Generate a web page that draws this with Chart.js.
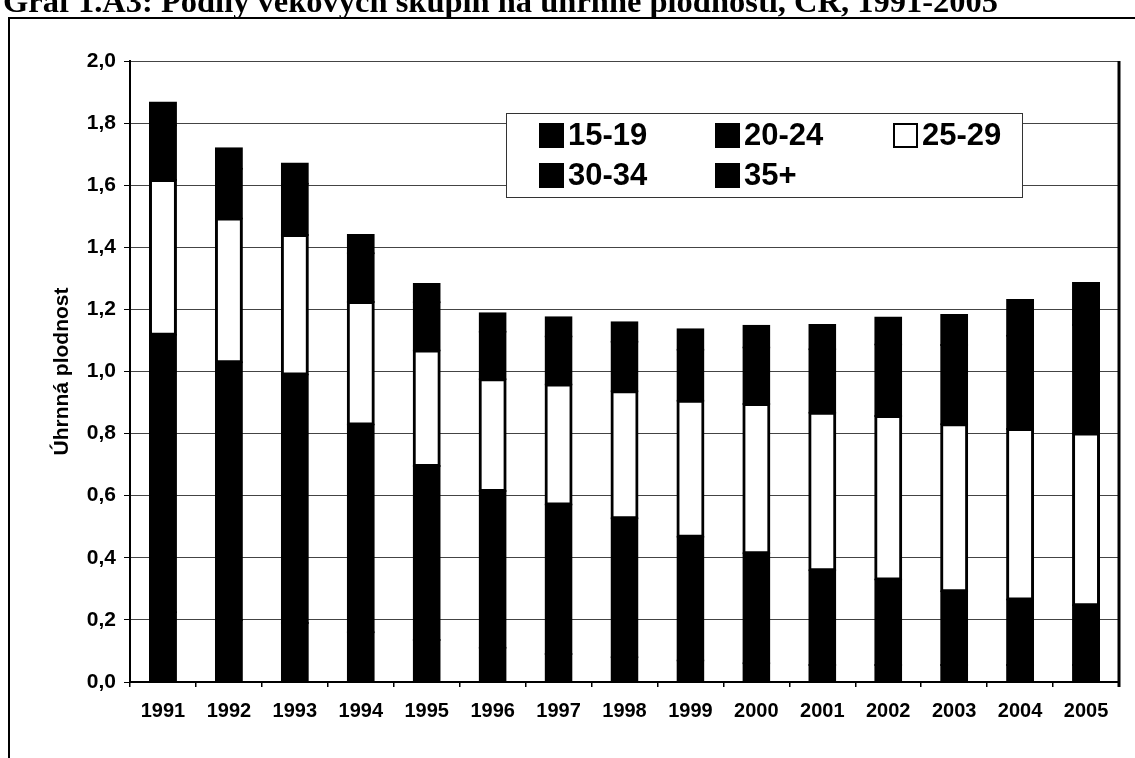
<!DOCTYPE html>
<html lang="cs">
<head>
<meta charset="utf-8">
<title>Graf 1.A3: Podíly věkových skupin na úhrnné plodnosti, ČR, 1991-2005</title>
<script src="https://cdn.jsdelivr.net/npm/chart.js@4/dist/chart.umd.min.js"></script>
<style>
  html, body { margin: 0; padding: 0; background: #fff; }
  canvas { display: block; }
</style>
</head>
<body>
<canvas id="chart" width="1135" height="758"></canvas>
<script>
// Roky a příspěvky věkových skupin k úhrnné plodnosti
const years = ['1991', '1992', '1993', '1994', '1995', '1996', '1997', '1998',
               '1999', '2000', '2001', '2002', '2003', '2004', '2005'];
const age15_19 = [0.225, 0.200, 0.190, 0.160, 0.135, 0.110, 0.090, 0.080, 0.069, 0.060, 0.055, 0.055, 0.055, 0.055, 0.055];
const age20_24 = [0.893, 0.830, 0.800, 0.669, 0.561, 0.505, 0.482, 0.447, 0.399, 0.355, 0.305, 0.275, 0.237, 0.211, 0.192];
const age25_29 = [0.499, 0.463, 0.450, 0.395, 0.372, 0.360, 0.386, 0.409, 0.438, 0.480, 0.507, 0.527, 0.538, 0.549, 0.553];
const age30_34 = [0.175, 0.160, 0.165, 0.157, 0.155, 0.153, 0.155, 0.160, 0.164, 0.182, 0.205, 0.230, 0.255, 0.300, 0.350];
const age35plus = [0.074, 0.066, 0.065, 0.059, 0.059, 0.060, 0.062, 0.063, 0.066, 0.070, 0.078, 0.087, 0.097, 0.115, 0.135];

const seriesLabels = ['15-19', '20-24', '25-29', '30-34', '35+'];
const seriesColors = ['#000000', '#000000', '#ffffff', '#000000', '#000000'];
const chartTitle = 'Graf 1.A3: Podíly věkových skupin na úhrnné plodnosti, ČR, 1991-2005';
const yAxisTitle = 'Úhrnná plodnost';

const SANS = '"Liberation Sans", Arial, sans-serif';
const SERIF = '"Liberation Serif", "Times New Roman", serif';

Chart.defaults.font.family = SANS;
Chart.defaults.color = '#000';

// Page frame, cut-off heading, right border of the plot and the boxed legend
const pagePlugin = {
  id: 'page',
  beforeDraw(chart) {
    const ctx = chart.ctx;
    ctx.save();
    ctx.fillStyle = '#fff';
    ctx.fillRect(0, 0, chart.width, chart.height);
    // heading, partly above the top edge
    ctx.fillStyle = '#000';
    ctx.font = 'bold 32.5px ' + SERIF;
    ctx.textBaseline = 'alphabetic';
    ctx.textAlign = 'left';
    ctx.fillText(chartTitle, 3, 12);
    // outer frame
    ctx.strokeStyle = '#000';
    ctx.lineWidth = 2;
    ctx.strokeRect(9, 18, chart.width + 20, chart.height + 20);
    ctx.restore();
  },
  afterDatasetsDraw(chart) {
    const {ctx, chartArea: a} = chart;
    ctx.save();
    ctx.strokeStyle = '#000';
    ctx.lineWidth = 3;
    ctx.beginPath();
    ctx.moveTo(a.right, a.top);
    ctx.lineTo(a.right, a.bottom + 5);
    ctx.stroke();
    ctx.restore();
  },
  afterDraw(chart) {
    const ctx = chart.ctx;
    ctx.save();
    // legend box
    ctx.fillStyle = '#fff';
    ctx.fillRect(506, 113, 516, 84);
    ctx.strokeStyle = '#333';
    ctx.lineWidth = 1;
    ctx.strokeRect(506.5, 113.5, 516, 84);
    const cols = [539, 715, 893];
    const rows = [135, 175];
    ctx.font = 'bold 31px ' + SANS;
    ctx.textBaseline = 'middle';
    ctx.textAlign = 'left';
    chart.data.datasets.forEach((ds, i) => {
      const x = cols[i % 3];
      const y = rows[Math.floor(i / 3)];
      ctx.fillStyle = ds.backgroundColor;
      ctx.fillRect(x, y - 12, 25, 25);
      ctx.strokeStyle = '#000';
      ctx.lineWidth = 2;
      ctx.strokeRect(x + 1, y - 11, 23, 23);
      ctx.fillStyle = '#000';
      ctx.fillText(ds.label, x + 29, y + 1);
    });
    ctx.restore();
  }
};

const seriesData = [age15_19, age20_24, age25_29, age30_34, age35plus];

new Chart(document.getElementById('chart'), {
  type: 'bar',
  data: {
    labels: years,
    datasets: seriesData.map((values, i) => ({
      label: seriesLabels[i],
      data: values,
      backgroundColor: seriesColors[i],
      borderColor: '#000',
      borderWidth: 3,
      borderSkipped: false,
      inflateAmount: 1,
      categoryPercentage: 1.0,
      barPercentage: 0.394
    }))
  },
  options: {
    responsive: false,
    devicePixelRatio: 1,
    animation: false,
    layout: { padding: { left: 40, top: 61, right: 16, bottom: 0 } },
    plugins: {
      legend: { display: false },
      tooltip: { enabled: false },
      title: { display: false }
    },
    scales: {
      x: {
        stacked: true,
        afterFit(scale) { scale.height = 76; },
        grid: {
          display: true,
          drawOnChartArea: false,
          drawTicks: true,
          tickLength: 5,
          color: '#000',
          lineWidth: 1.5,
          offset: true
        },
        border: { display: true, color: '#000', width: 2 },
        ticks: {
          padding: 12,
          maxRotation: 0,
          autoSkip: false,
          color: '#000',
          font: { size: 20, weight: 'bold', family: SANS }
        }
      },
      y: {
        stacked: true,
        min: 0,
        max: 2,
        afterFit(scale) { scale.width = 90; },
        grid: {
          color: '#444',
          lineWidth: 1,
          drawTicks: true,
          tickLength: 6,
          tickColor: '#000'
        },
        border: { display: true, color: '#000', width: 2 },
        ticks: {
          stepSize: 0.2,
          padding: 8,
          color: '#000',
          font: { size: 21, weight: 'bold', family: SANS },
          callback: (v) => Number(v).toFixed(1).replace('.', ',')
        },
        title: {
          display: true,
          text: yAxisTitle,
          color: '#000',
          padding: { top: 10, bottom: 0 },
          font: { size: 21, weight: 'bold', family: SANS }
        }
      }
    }
  },
  plugins: [pagePlugin]
});
</script>
</body>
</html>
